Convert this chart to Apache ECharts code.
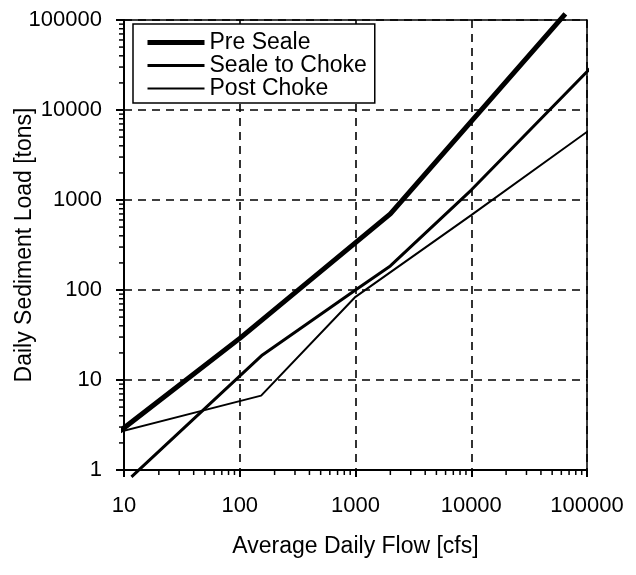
<!DOCTYPE html>
<html>
<head>
<meta charset="utf-8">
<script src="https://cdn.jsdelivr.net/npm/echarts@6/dist/echarts.min.js"></script>
<style>
html,body{margin:0;padding:0;background:#fff;}
#chart{width:636px;height:575px;}
</style>
</head>
<body>
<div id="chart"></div>
<script>
// ---- data ----
const seriesNames = ['Pre Seale', 'Seale to Choke', 'Post Choke'];
const preSealeFlow = [9.2, 100, 2000, 65000];
const preSealeLoad = [2.7, 29, 700, 117000];
const sealeChokeFlow = [11.6, 157, 1000, 2000, 10000, 112000];
const sealeChokeLoad = [0.84, 19, 100, 185, 1290, 31000];
const postChokeFlow = [9.2, 153, 1000, 10000, 111000];
const postChokeLoad = [2.65, 6.7, 84, 680, 6300];
const xTickValues = [10, 100, 1000, 10000, 100000];
const xTickLabels = ['10', '100', '1000', '10000', '100000'];
const yTickValues = [1, 10, 100, 1000, 10000, 100000];
const yTickLabels = ['1', '10', '100', '1000', '10000', '100000'];
const xAxisTitle = 'Average Daily Flow [cfs]';
const yAxisTitle = 'Daily Sediment Load [tons]';

function pairs(xs, ys) { return xs.map((x, i) => [x, ys[i]]); }
function labelFor(values, labels) {
  return function (v) {
    for (let i = 0; i < values.length; i++) {
      if (Math.abs(Math.log10(v) - Math.log10(values[i])) < 1e-6) return labels[i];
    }
    return '';
  };
}
// minor tick positions (2..9 per decade)
const xMinor = [], yMinor = [];
for (let d = 10; d < 100000; d *= 10) for (let m = 2; m <= 9; m++) xMinor.push(d * m);
for (let d = 1; d < 100000; d *= 10) for (let m = 2; m <= 9; m++) yMinor.push(d * m);

const font = "'Liberation Sans', Arial, Helvetica, sans-serif";
const chart = echarts.init(document.getElementById('chart'), null, {renderer: 'canvas'});

const option = {
  backgroundColor: '#fff',
  animation: false,
  grid: {left: 124, right: 49, top: 20, bottom: 105, containLabel: false, outerBoundsMode: 'none',
         show: true, borderColor: '#000', borderWidth: 1.5, backgroundColor: 'transparent'},
  legend: {
    orient: 'vertical',
    left: 133, top: 24,
    data: seriesNames,
    itemWidth: 57, itemHeight: 14, itemGap: 0,
    padding: [7, 8, 3, 12],
    borderColor: '#000', borderWidth: 1.5,
    backgroundColor: '#fff',
    textStyle: {fontFamily: font, fontSize: 23, color: '#000', lineHeight: 22},
    lineStyle: {width: 'inherit'},
    itemStyle: {opacity: 0}
  },
  xAxis: {
    type: 'log', logBase: 10, min: 10, max: 100000,
    name: xAxisTitle, nameLocation: 'middle', nameGap: 65, nameMoveOverlap: false,
    nameTextStyle: {fontFamily: font, fontSize: 23, color: '#000'},
    axisLine: {show: true, lineStyle: {color: '#000', width: 2}},
    axisTick: {show: true, inside: false, length: 7, lineStyle: {color: '#000', width: 2}},
    axisLabel: {fontFamily: font, fontSize: 22, color: '#000', margin: 25, formatter: labelFor(xTickValues, xTickLabels)},
    splitLine: {show: true, lineStyle: {color: '#000', width: 1.6, type: [8, 6]}}
  },
  yAxis: {
    type: 'log', logBase: 10, min: 1, max: 100000,
    name: yAxisTitle, nameLocation: 'middle', nameGap: 88, nameMoveOverlap: false,
    nameTextStyle: {fontFamily: font, fontSize: 23, color: '#000'},
    axisLine: {show: true, lineStyle: {color: '#000', width: 2}},
    axisTick: {show: true, inside: false, length: 8, lineStyle: {color: '#000', width: 2}},
    axisLabel: {fontFamily: font, fontSize: 22, color: '#000', margin: 22, formatter: labelFor(yTickValues, yTickLabels)},
    splitLine: {show: true, lineStyle: {color: '#000', width: 1.6, type: [8, 6]}}
  },
  series: [
    {
      name: seriesNames[0], type: 'line', data: pairs(preSealeFlow, preSealeLoad),
      symbol: 'none', clip: false, z: 5,
      lineStyle: {color: '#000', width: 5}, itemStyle: {color: '#000'}
    },
    {
      name: seriesNames[1], type: 'line', data: pairs(sealeChokeFlow, sealeChokeLoad),
      symbol: 'none', clip: false, z: 5,
      lineStyle: {color: '#000', width: 3}, itemStyle: {color: '#000'}
    },
    {
      name: seriesNames[2], type: 'line', data: pairs(postChokeFlow, postChokeLoad),
      symbol: 'none', clip: false, z: 5,
      lineStyle: {color: '#000', width: 2}, itemStyle: {color: '#000'}
    },
    {
      type: 'custom', silent: true, clip: false, z: 3,
      data: xMinor.map(v => [v, 1]),
      renderItem: function (params, api) {
        const p = api.coord([api.value(0), 1]);
        return {type: 'line', shape: {x1: p[0], y1: p[1], x2: p[0], y2: p[1] + 5}, style: {stroke: '#000', lineWidth: 1.5}};
      }
    },
    {
      type: 'custom', silent: true, clip: false, z: 3,
      data: yMinor.map(v => [10, v]),
      renderItem: function (params, api) {
        const p = api.coord([10, api.value(1)]);
        return {type: 'line', shape: {x1: p[0] - 5, y1: p[1], x2: p[0], y2: p[1]}, style: {stroke: '#000', lineWidth: 1.5}};
      }
    }
  ]
};
chart.setOption(option);
</script>
</body>
</html>
